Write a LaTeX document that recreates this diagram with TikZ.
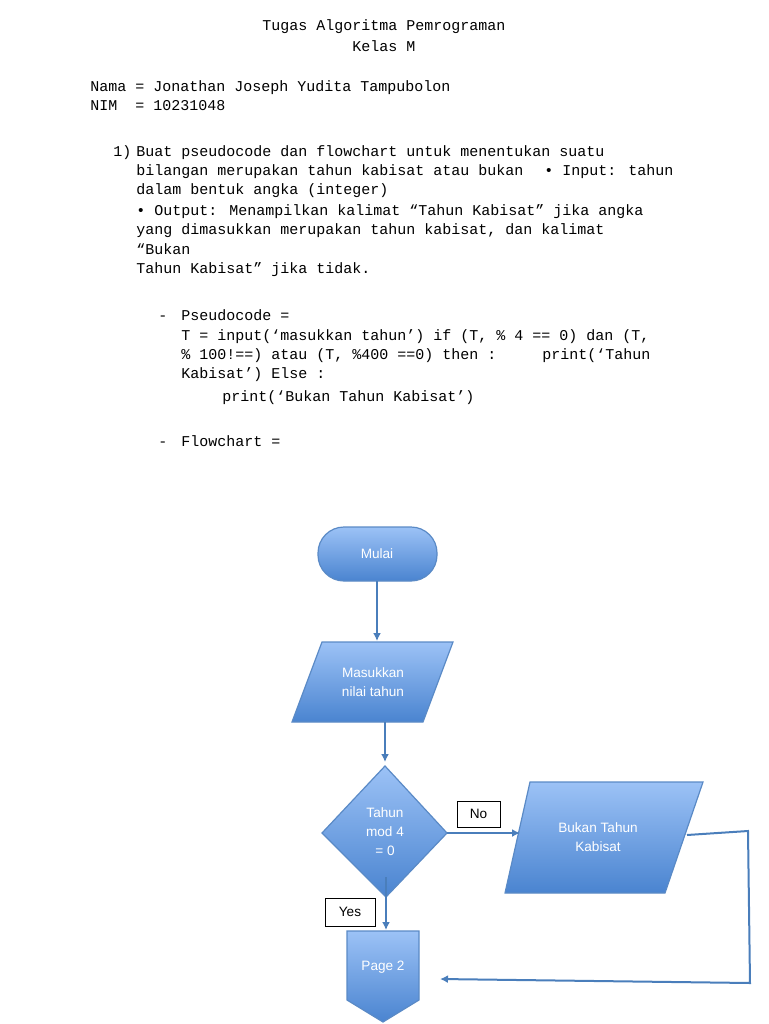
\documentclass[tikz,border=0pt]{standalone}
\usepackage{fontspec}
\setmainfont{Liberation Sans}
\newfontfamily\codefont{Liberation Mono}
\usetikzlibrary{arrows.meta}
\definecolor{boxtop}{HTML}{9CC2F6}
\definecolor{boxbot}{HTML}{4A84D0}
\definecolor{boxline}{HTML}{5A8AC6}
\definecolor{flowline}{HTML}{4A7EBB}
\tikzset{
  code/.style={anchor=base west,inner sep=0pt,font=\codefont\fontsize{7.5}{9}\selectfont},
  box/.style={top color=boxtop,bottom color=boxbot,draw=boxline,line width=0.6pt},
  boxtext/.style={text=white,align=center,font=\fontsize{6.8}{9.5}\selectfont},
  flow/.style={draw=flowline,line width=1pt,-{Latex[length=4pt,width=4pt]}},
  tag/.style={draw=black,line width=0.5pt,fill=white,inner sep=0pt,font=\fontsize{6.8}{8}\selectfont}
}
\begin{document}
\begin{tikzpicture}[x=0.5pt,y=-0.5pt]
\useasboundingbox (0,0) rectangle (768,1024);

% header and task text
\node[code,anchor=base] (title) at (384,30) {Tugas Algoritma Pemrograman};
\node[code,anchor=base] (kelas) at (384,51) {Kelas M};
\node[code] (nama) at (90,91) {Nama = Jonathan Joseph Yudita Tampubolon};
\node[code] (nim) at (90,110) {NIM\ \ = 10231048};
\node[code] (num) at (113,156) {1)};
\node[code] (t1) at (136,156) {Buat pseudocode dan flowchart untuk menentukan suatu};
\node[code] (t2) at (136,175) {bilangan merupakan tahun kabisat atau bukan};
\node[code] (t2b) at (544,175) {• Input: tahun};
\node[code] (t3) at (136,194) {dalam bentuk angka (integer)};
\node[code] (t4) at (136,215) {• Output: Menampilkan kalimat “Tahun Kabisat” jika angka};
\node[code] (t5) at (136,234) {yang dimasukkan merupakan tahun kabisat, dan kalimat};
\node[code] (t6) at (136,254) {“Bukan};
\node[code] (t7) at (136,273) {Tahun Kabisat” jika tidak.};

% pseudocode
\node[code] (d1) at (158,320) {-};
\node[code] (p0) at (181,320) {Pseudocode =};
\node[code] (p1) at (181,340) {T = input(‘masukkan tahun’) if (T, \% 4 == 0) dan (T,};
\node[code] (p2) at (181,359) {\% 100!==) atau (T, \%400 ==0) then :};
\node[code] (p2b) at (542,359) {print(‘Tahun};
\node[code] (p3) at (181,378) {Kabisat’) Else :};
\node[code] (p4) at (222,401) {print(‘Bukan Tahun Kabisat’)};
\node[code] (d2) at (158,446) {-};
\node[code] (f0) at (181,446) {Flowchart =};

% flowchart shapes
\path[box,rounded corners=13pt] (318,527) rectangle (437,581);
\node[boxtext] (mulai) at (377,554) {Mulai};
\path[box] (322,642) -- (453,642) -- (423,722) -- (292,722) -- cycle;
\node[boxtext] (input) at (373,682) {Masukkan\\nilai tahun};
\path[box] (385,766) -- (447,833) -- (386,897) -- (322,833) -- cycle;
\node[boxtext] (cek) at (385,832) {Tahun\\mod 4\\= 0};
\path[box] (530,782) -- (703,782) -- (665,893) -- (505,893) -- cycle;
\node[boxtext] (bukan) at (598,837) {Bukan Tahun\\Kabisat};
\path[box] (347,931) -- (419,931) -- (419,1000) -- (383,1022) -- (347,1000) -- cycle;
\node[boxtext] (page) at (383,967) {Page 2};

% connector points
\coordinate (mulaiS) at (377,581);
\coordinate (inputN) at (377,641);
\coordinate (inputS) at (385,722);
\coordinate (cekN) at (385,762);
\coordinate (cekE) at (447,833);
\coordinate (bukanW) at (520,833);
\coordinate (cekS) at (386,877);
\coordinate (pageN) at (386,930);
\coordinate (bukanE) at (687,835);
\coordinate (c1) at (748,831);
\coordinate (c2) at (750,983);
\coordinate (pageE) at (440,979);

\draw[flow] (mulaiS) -- (inputN);
\draw[flow] (inputS) -- (cekN);
\draw[flow] (cekE) -- (bukanW);
\draw[flow] (cekS) -- (pageN);
\draw[flow] (bukanE) -- (c1) -- (c2) -- (pageE);

% labels
\node[tag,minimum width=21.5pt,minimum height=13pt] (no) at (478.5,814) {No};
\node[tag,minimum width=25pt,minimum height=14pt] (yes) at (350,912) {Yes};
\end{tikzpicture}
\end{document}
